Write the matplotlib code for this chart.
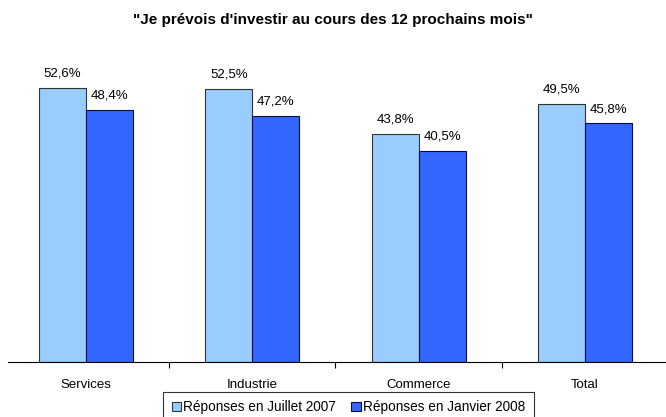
import matplotlib
matplotlib.use("Agg")
import matplotlib.pyplot as plt
import numpy as np
from matplotlib.ticker import FixedLocator

categories = ["Services", "Industrie", "Commerce", "Total"]
juillet_2007 = [52.6, 52.5, 43.8, 49.5]
janvier_2008 = [48.4, 47.2, 40.5, 45.8]
series_names = ["Réponses en Juillet 2007", "Réponses en Janvier 2008"]
title = "\"Je prévois d'investir au cours des 12 prochains mois\""

plt.rcParams['font.family'] = ['Liberation Sans', 'DejaVu Sans']

W, H = 666, 417
fig = plt.figure(figsize=(W / 100, H / 100), dpi=100)
left, right = 8, 666
bottom_px, top_px = 362, 49.5
ax = fig.add_axes([left / W, (H - bottom_px) / H, (right - left) / W, (bottom_px - top_px) / H])

x = np.arange(len(categories))
bw = 0.283
c1, c2 = "#99CCFF", "#3366FF"
b1 = ax.bar(x - bw / 2, juillet_2007, bw, color=c1, edgecolor="#333333", linewidth=0.8, label=series_names[0])
b2 = ax.bar(x + bw / 2, janvier_2008, bw, color=c2, edgecolor="#0a0a40", linewidth=0.8, label=series_names[1])

for bars, vals in ((b1, juillet_2007), (b2, janvier_2008)):
    for r, v in zip(bars, vals):
        ax.annotate(f"{v:.1f}".replace(".", ",") + "%",
                    (r.get_x() + r.get_width() / 2, v), xytext=(0, 6),
                    textcoords="offset points", ha="center", va="bottom", fontsize=9.5)

ax.set_xlim(-0.469, 3.488)
ax.set_ylim(0, 60)
ax.set_xticks(x)
ax.set_xticklabels(categories, fontsize=9.5)
ax.tick_params(axis="x", which="major", length=0, pad=12)
ax.xaxis.set_minor_locator(FixedLocator([0.5, 1.5, 2.5]))
ax.tick_params(axis="x", which="minor", length=4, width=0.8, direction="out")
ax.set_yticks([])
for s in ("left", "right", "top"):
    ax.spines[s].set_visible(False)
ax.spines["bottom"].set_linewidth(0.8)

fig.text(0.5, 1 - 20 / H, title, ha="center", va="center", fontsize=11, fontweight="bold")

leg = fig.legend(handles=[b1, b2], labels=series_names, loc="upper center", ncol=2,
                 bbox_to_anchor=(348.5 / W, 1 - 392 / H), fontsize=9.8,
                 frameon=True, fancybox=False, edgecolor="black",
                 handlelength=0.72, handleheight=0.72, handletextpad=0.15,
                 columnspacing=1.1, borderpad=0.6, borderaxespad=0)
leg.get_frame().set_linewidth(0.8)

fig.savefig("out.png", dpi=100)
